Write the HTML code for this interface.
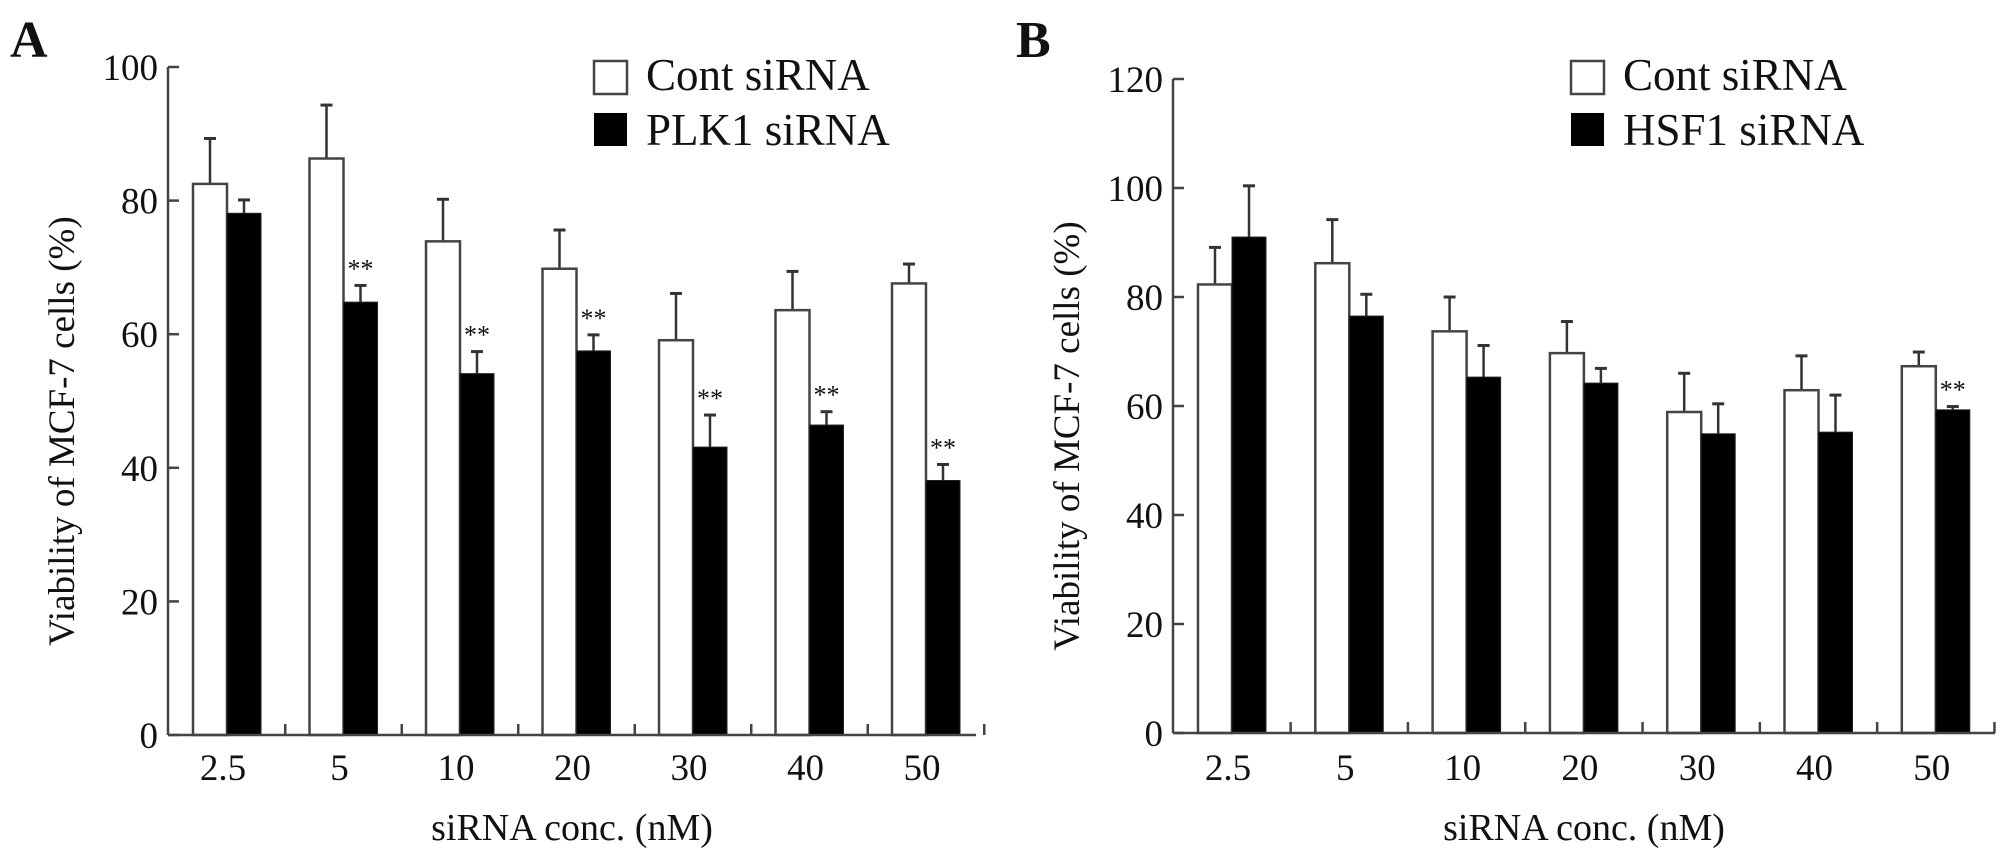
<!DOCTYPE html>
<html><head><meta charset="utf-8"><style>
html,body{margin:0;padding:0;background:#fff}
svg{display:block}
text{font-family:"Liberation Serif",serif;fill:#111}
</style></head><body>
<svg id="chart" width="2008" height="863" viewBox="0 0 2008 863" xmlns="http://www.w3.org/2000/svg"></svg>
<script>
const categories = ["2.5","5","10","20","30","40","50"];
const contA = [82.5,86.3,73.9,69.8,59.1,63.6,67.6];
const contAErr = [6.8,8,6.3,5.8,7,5.8,2.9];
const plk1 = [78.1,64.8,54.1,57.5,43.1,46.4,38.1];
const plk1Err = [2,2.5,3.3,2.4,4.8,2,2.4];
const plk1Sig = [false,true,true,true,true,true,true];
const contB = [82.3,86.2,73.7,69.7,58.9,62.9,67.3];
const contBErr = [6.8,8,6.3,5.8,7.1,6.3,2.6];
const hsf1 = [91,76.5,65.3,64.2,54.9,55.2,59.3];
const hsf1Err = [9.4,4,5.8,2.7,5.5,6.8,0.6];
const hsf1Sig = [false,false,false,false,false,false,true];
const ticksA = [0,20,40,60,80,100];
const ticksB = [0,20,40,60,80,100,120];

const NS="http://www.w3.org/2000/svg";
const svg=document.getElementById('chart');
function mk(tag,attrs,parent,txt){const e=document.createElementNS(NS,tag);for(const k in attrs)e.setAttribute(k,attrs[k]);if(txt!==undefined)e.textContent=txt;(parent||svg).appendChild(e);return e;}

function panel(o){
  const g=mk('g',{});
  
  
  const y=v=>o.y0-(v-0)*(o.y0-o.yTop)/o.yMax;
  const xW=i=>o.x1+i*o.step;
  const bw=34;
  // letter
  const L=mk('text',{x:o.letterX,y:57,'font-size':52,'font-weight':'bold'},g,o.letter);
  
  
  // bars
  categories.forEach((c,i)=>{
    const xw=xW(i), xb=xw+bw;
    const wv=o.cont[i], we=o.contErr[i], bv=o.treat[i], be=o.treatErr[i];
    const ew=mk('line',{x1:xw+bw/2,x2:xw+bw/2,y1:y(wv),y2:y(wv+we),stroke:'#333','stroke-width':2.5},g);
    
    
    mk('line',{x1:xw+bw/2-6,x2:xw+bw/2+6,y1:y(wv+we),y2:y(wv+we),stroke:'#333','stroke-width':3},g);
    const eb=mk('line',{x1:xb+bw/2,x2:xb+bw/2,y1:y(bv),y2:y(bv+be),stroke:'#333','stroke-width':2.5},g);
    
    
    mk('line',{x1:xb+bw/2-6,x2:xb+bw/2+6,y1:y(bv+be),y2:y(bv+be),stroke:'#333','stroke-width':3},g);
    const rw=mk('rect',{x:xw,y:y(wv),width:bw,height:o.y0-y(wv),fill:'#fff',stroke:'#444','stroke-width':2.5},g);
    
    
    const rb=mk('rect',{x:xb,y:y(bv),width:bw,height:o.y0-y(bv),fill:'#000',stroke:'#222','stroke-width':1},g);
    
    
    if(o.sig[i]){
      const s=mk('text',{x:xb+bw/2,y:y(bv+be)-8,'font-size':26,'text-anchor':'middle'},g,'**');
      
      
    }
    const t=mk('text',{x:xw+bw-4,y:780,'font-size':37,'text-anchor':'middle'},g,c);
    
    
    const tk=mk('line',{x1:xw+2*bw+(o.step-2*bw)/2,x2:xw+2*bw+(o.step-2*bw)/2,y1:o.y0,y2:o.y0-11,stroke:'#444','stroke-width':2.5},g);
    
    
  });
  // axes
  const ya=mk('line',{x1:o.ax,x2:o.ax,y1:o.yTop,y2:o.y0,stroke:'#444','stroke-width':2.5},g);
  
  
  const xa=mk('line',{x1:o.ax,x2:o.xEnd,y1:o.y0,y2:o.y0,stroke:'#444','stroke-width':2.5},g);
  
  
  o.ticks.forEach(v=>{
    mk('line',{x1:o.ax,x2:o.ax+11,y1:y(v),y2:y(v),stroke:'#444','stroke-width':2.5},g);
    const t=mk('text',{x:o.ax-10,y:y(v)+13,'font-size':37,'text-anchor':'end'},g,String(v));
    
    
  });
  const yt=mk('text',{x:0,y:0,'font-size':37,'text-anchor':'middle',transform:`translate(${o.ax-94},${(o.y0+o.yTop)/2+30}) rotate(-90)`},g,'Viability of MCF-7 cells  (%)');
  
  
  const xt=mk('text',{x:(o.ax+o.xEnd)/2,y:840,'font-size':38,'text-anchor':'middle'},g,'siRNA conc. (nM)');
  
  
  // legend
  const lg=mk('g',{},g);
  
  
  mk('rect',{x:o.legX,y:61,width:33,height:33,fill:'#fff',stroke:'#444','stroke-width':2.5},lg);
  mk('rect',{x:o.legX,y:113,width:33,height:33,fill:'#000'},lg);
  const l1=mk('text',{x:o.legX+52,y:90,'font-size':45},lg,'Cont siRNA');
  
  
  const l2=mk('text',{x:o.legX+52,y:145,'font-size':45},lg,o.treatName);
  
  
}
panel({name:'panel-a',letter:'A',letterX:10,ax:168,y0:735,yTop:67,yMax:100,x1:193,step:116.5,xEnd:976,ticks:ticksA,
  cont:contA,contErr:contAErr,treat:plk1,treatErr:plk1Err,sig:plk1Sig,legX:594,treatName:'PLK1 siRNA'});
panel({name:'panel-b',letter:'B',letterX:1016,ax:1173,y0:733,yTop:79,yMax:120,x1:1198,step:117.3,xEnd:1995,ticks:ticksB,
  cont:contB,contErr:contBErr,treat:hsf1,treatErr:hsf1Err,sig:hsf1Sig,legX:1571,treatName:'HSF1 siRNA'});
</script>
</body></html>
